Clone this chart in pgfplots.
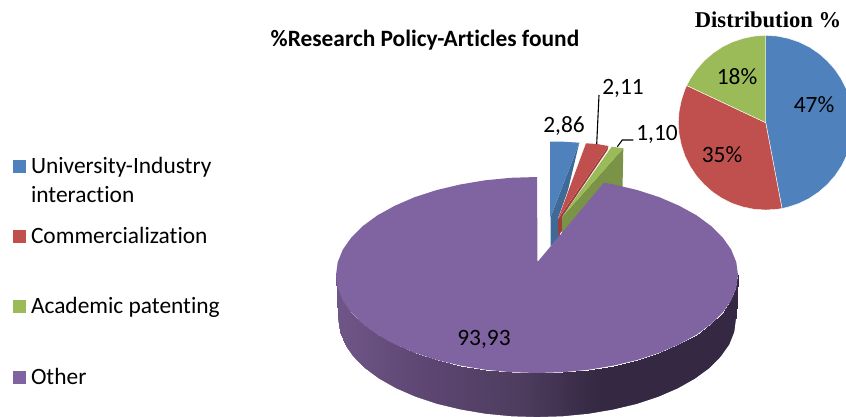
\documentclass[border=0pt]{standalone}
\usepackage{fontspec}
\setmainfont[Ligatures=NoCommon]{Carlito}
\newfontfamily\serifb{Liberation Serif}
\usepackage{pgfplots}
\pgfplotsset{compat=1.18}
\definecolor{cB}{HTML}{4F81BD}\definecolor{cBd}{HTML}{3F6A98}
\definecolor{cR}{HTML}{C0504D}\definecolor{cRd}{HTML}{9C3E3B}
\definecolor{cG}{HTML}{9BBB59}\definecolor{cGd}{HTML}{7A9347}
\definecolor{cP}{HTML}{8064A2}
\begin{document}
\begin{tikzpicture}
\useasboundingbox (0,0) rectangle (846pt,417pt);
\begin{axis}[at={(0,0)},anchor=south west,scale only axis,width=846pt,height=417pt,
  xmin=0,xmax=846,ymin=0,ymax=417,y dir=reverse,hide axis,clip mode=individual,
  colormap={wall}{rgb255(0pt)=(111,86,136); rgb255(84pt)=(94,71,115); rgb255(184pt)=(78,61,95); rgb255(264pt)=(52,40,66); rgb255(402pt)=(52,40,66)},
  point meta min=336,point meta max=738,
  nodes={inner sep=0pt,outer sep=0pt}]
% small slices of the 3-D pie
\addplot[fill=cBd,draw=none] coordinates {(579.3,142.7)(550.7,216.7)(550.7,246)(560,236)(558,218.3)(568,190)} -- cycle;
\addplot[fill=cB,draw=none] coordinates {(550,141.7)(563,141.7)(579.3,142.7)(550.7,216.7)(550,216.7)} -- cycle;
\addplot[fill=cRd,draw=none] coordinates {(608.3,146)(558,219)(557.7,236)(563,230)(562,217)(607.5,150)} -- cycle;
\addplot[fill=cR,draw=none] coordinates {(586,143.3)(597,144)(608.3,146)(558.3,218.3)} -- cycle;
\addplot[fill=cGd,draw=none] coordinates {(623.3,148.3)(622.5,190)(604,190)(562,236)(562,217)} -- cycle;
\addplot[fill=cG,draw=none] coordinates {(611.7,146.7)(623.3,148.3)(562.3,216.7)} -- cycle;
% wall of the large slice
\addplot[surf,shader=interp,mesh/rows=25,point meta=x] table[x=x,y=y] {
x y
336 275
338 319
337.7 287.8
339.7 331.8
342.8 300.4
344.7 344.4
351.3 312.5
353.2 356.5
362.9 324
364.6 368
377.5 334.7
379.1 378.7
394.9 344.3
396.3 388.3
414.6 352.8
415.8 396.8
436.5 359.9
437.5 403.9
460.1 365.5
460.9 409.5
485 369.7
485.5 413.7
510.8 372.2
511.1 416.2
537 373
537 417
563.2 372.2
562.9 416.2
589 369.7
588.5 413.7
613.9 365.5
613.1 409.5
637.5 359.9
636.5 403.9
659.4 352.8
658.2 396.8
679.1 344.3
677.7 388.3
696.5 334.7
694.9 378.7
711.1 324
709.4 368
722.7 312.5
720.8 356.5
731.2 300.4
729.3 344.4
736.3 287.8
734.3 331.8
738 275
736 319
};
% clean outer edge of the wall
\addplot[white,line width=1.6pt] coordinates {(337.2,319)(338.9,332.2)(343.9,344.9)(352.5,357.1)(363.9,368.7)(378.5,379.4)(395.7,389.1)(415.3,397.6)(437.1,404.8)(460.6,410.4)(485.3,414.6)(511,417.1)(537,417.9)(563,417.1)(588.7,414.6)(613.4,410.4)(636.9,404.8)(658.7,397.6)(678.3,389.1)(695.5,379.4)(710.1,368.7)(721.5,357.1)(730.1,344.9)(735.1,332.2)(736.8,319)};
% top of the large slice
\addplot[fill=cP,draw=none] coordinates {(537.5,262)(604,182.6)(613.9,184.5)(637.5,190.1)(659.4,197.2)(679.1,205.7)(696.5,215.3)(711.1,226)(722.7,237.5)(731.2,249.6)(736.3,262.2)(738,275)
(736.3,287.8)(731.2,300.4)(722.7,312.5)(711.1,324)(696.5,334.7)(679.1,344.3)(659.4,352.8)(637.5,359.9)(613.9,365.5)(589,369.7)(563.2,372.2)(537,373)
(510.8,372.2)(485,369.7)(460.1,365.5)(436.5,359.9)(414.6,352.8)(394.9,344.3)(377.5,334.7)(362.9,324)(351.3,312.5)(342.8,300.4)(337.7,287.8)(336,275)
(337.7,262.2)(342.8,249.6)(351.3,237.5)(362.9,226)(377.5,215.3)(394.9,205.7)(414.6,197.2)(436.5,190.1)(460.1,184.5)(485,180.3)(510.8,177.8)(537,177)} -- cycle;
% leader lines
\addplot[black,line width=1.1pt] coordinates {(599,95)(596.7,144)};
\addplot[black,line width=1.1pt] coordinates {(617.3,146.7)(622.3,140)(633.3,140)};
% small pie
\addplot[fill=cB,draw=white,line width=0.4pt] coordinates {(765.7,122.7)(765.7,35.4)(777.1,36.1)(788.3,38.4)(799.1,42)(809.4,47.1)(818.8,53.4)(827.4,61)(835,69.6)(841.3,79)(846.4,89.3)(850,100.1)(852.3,111.3)(853,122.7)(852.3,134.1)(850,145.3)(846.4,156.1)(841.3,166.4)(835,175.8)(827.4,184.4)(818.8,192)(809.4,198.3)(799.1,203.4)(788.3,207)(782,208.5)} -- cycle;
\addplot[fill=cR,draw=white,line width=0.4pt] coordinates {(765.7,122.7)(782,208.5)(777.1,209.3)(765.7,210)(754.3,209.3)(743.1,207)(732.3,203.4)(722,198.3)(712.6,192)(704,184.4)(696.4,175.8)(690.1,166.4)(685,156.1)(681.4,145.3)(679.1,134.1)(678.4,122.7)(679.1,111.3)(681.4,100.1)(685,89.3)(686.7,85.5)} -- cycle;
\addplot[fill=cG,draw=white,line width=0.4pt] coordinates {(765.7,122.7)(686.7,85.5)(690.1,79)(696.4,69.6)(704,61)(712.6,53.4)(722,47.1)(732.3,42)(743.1,38.4)(754.3,36.1)(765.7,35.4)} -- cycle;
% legend swatches
\addplot[fill=cB,draw=none] coordinates {(13,160)(26,160)(26,173)(13,173)} -- cycle;
\addplot[fill=cR,draw=none] coordinates {(13,230)(26,230)(26,243)(13,243)} -- cycle;
\addplot[fill=cG,draw=none] coordinates {(13,300)(26,300)(26,313)(13,313)} -- cycle;
\addplot[fill=cP,draw=none] coordinates {(13,371)(26,371)(26,384)(13,384)} -- cycle;
% texts
\newcommand{\tx}[4]{\node[anchor=#1] at (axis cs:#2,#3) {\fontsize{23.4}{28}\selectfont #4};}
\tx{base west}{31}{173}{University-Industry}
\tx{base west}{31}{202}{interaction}
\tx{base west}{31}{243}{Commercialization}
\tx{base west}{31}{313}{Academic patenting}
\tx{base west}{31}{384}{Other}
\tx{base}{564}{132}{2,86}
\tx{base}{623}{95}{2,11}
\tx{base}{657}{141}{1,10}
\tx{base}{484}{345}{93,93}
\tx{base}{814}{113}{47\%}
\tx{base}{722}{163}{35\%}
\tx{base}{737}{85}{18\%}
\node[anchor=base] at (axis cs:425,47) {\fontsize{23.4}{28}\selectfont\bfseries \%Research Policy-Articles found};
\node[anchor=base] at (axis cs:768,28) {\fontsize{22.6}{27}\selectfont\serifb\bfseries Distribution \%};
\end{axis}
\end{tikzpicture}
\end{document}
